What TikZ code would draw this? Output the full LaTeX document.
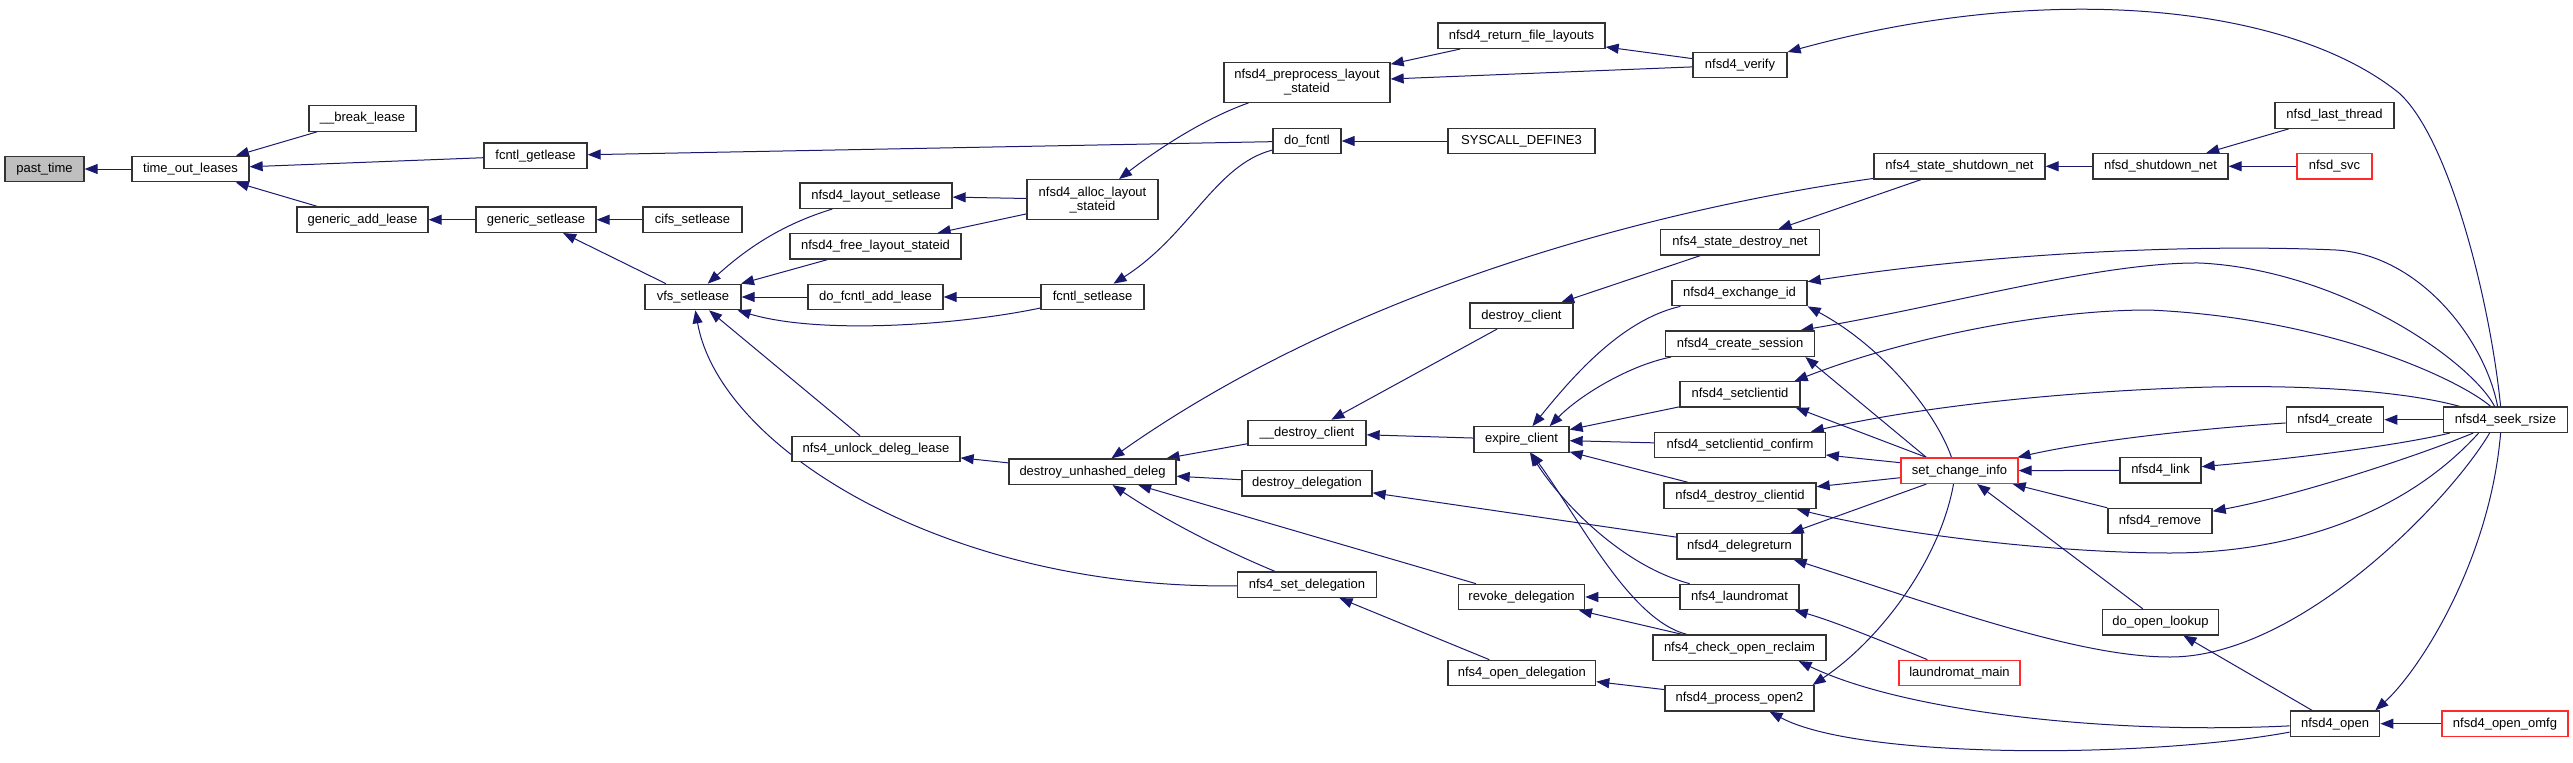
\documentclass[tikz,border=0pt]{standalone}
\usepackage{fontspec}
\setmainfont{Liberation Sans}
\usetikzlibrary{arrows.meta,calc}
\definecolor{navy}{HTML}{191970}
\definecolor{boxred}{HTML}{FF2A2A}
\newcommand\nodefont{\fontsize{13}{14}\selectfont}
\pgfdeclarelayer{bg}
\pgfsetlayers{bg,main}
\tikzset{
  box/.style={draw=black!80, line width=1.3pt, fill=white, minimum height=25.4pt, inner sep=0pt, font=\nodefont, align=center},
  tall/.style={minimum height=40pt},
  redbox/.style={box, draw=boxred},
  graybox/.style={box, fill=black!25},
  edg/.style={draw=navy, line width=1pt, -{Triangle[length=13pt,width=10pt]}},
}
\begin{document}
\begin{tikzpicture}[x=1pt,y=-1pt]
\useasboundingbox (0,0) rectangle (2573,763);
% nodes
\node[graybox, minimum width=79] (past) at (44.5,169) {past\_time};
\node[box, minimum width=117] (tol) at (190.5,169) {time\_out\_leases};
\node[box, minimum width=107] (brk) at (362.5,118.5) {\_\_break\_lease};
\node[box, minimum width=103] (getl) at (535.5,155.7) {fcntl\_getlease};
\node[box, minimum width=131] (gal) at (362.5,219.7) {generic\_add\_lease};
\node[box, minimum width=120] (gsl) at (536,219.7) {generic\_setlease};
\node[box, minimum width=99] (cifs) at (692.5,219.7) {cifs\_setlease};
\node[box, minimum width=96] (vfs) at (693,297) {vfs\_setlease};
\node[box, minimum width=152] (nls) at (876,195.7) {nfsd4\_layout\_setlease};
\node[box, minimum width=171] (nfl) at (875.5,246.3) {nfsd4\_free\_layout\_stateid};
\node[box, minimum width=135] (dfal) at (875.5,297) {do\_fcntl\_add\_lease};
\node[box, tall, minimum width=131] (alloc) at (1092.5,199.7) {nfsd4\_alloc\_layout\\\_stateid};
\node[box, minimum width=103] (fsl) at (1092.5,297) {fcntl\_setlease};
\node[box, tall, minimum width=166] (pre) at (1307,82.3) {nfsd4\_preprocess\_layout\\\_stateid};
\node[box, minimum width=68] (dofc) at (1307,141) {do\_fcntl};
\node[box, minimum width=147] (sys) at (1521.5,141) {SYSCALL\_DEFINE3};
\node[box, minimum width=167] (rfl) at (1521.5,35.7) {nfsd4\_return\_file\_layouts};
\node[box, minimum width=94] (ver) at (1740,65) {nfsd4\_verify};
\node[box, minimum width=171] (ssn) at (1959.5,166.3) {nfs4\_state\_shutdown\_net};
\node[box, minimum width=135] (shut) at (2160.5,166.3) {nfsd\_shutdown\_net};
\node[box, minimum width=119] (last) at (2334.5,115.5) {nfsd\_last\_thread};
\node[redbox, minimum width=75] (svc) at (2334.5,166.3) {nfsd\_svc};
\node[box, minimum width=158.5] (sdn) at (1740,242.3) {nfs4\_state\_destroy\_net};
\node[box, minimum width=103] (dc) at (1521.5,315.7) {destroy\_client};
\node[box, minimum width=135] (exid) at (1739.5,293) {nfsd4\_exchange\_id};
\node[box, minimum width=149.5] (cs) at (1740,343.7) {nfsd4\_create\_session};
\node[box, minimum width=120] (sc) at (1740,394.3) {nfsd4\_setclientid};
\node[box, minimum width=170.4] (conf) at (1740,445) {nfsd4\_setclientid\_confirm};
\node[box, minimum width=152] (dcid) at (1740,495.7) {nfsd4\_destroy\_clientid};
\node[box, minimum width=125] (dr) at (1739.5,546.3) {nfsd4\_delegreturn};
\node[box, minimum width=119] (laund) at (1739.5,597) {nfs4\_laundromat};
\node[box, minimum width=173] (cor) at (1739.5,647.7) {nfs4\_check\_open\_reclaim};
\node[box, minimum width=149] (po2) at (1739.5,698.3) {nfsd4\_process\_open2};
\node[box, minimum width=168] (unlock) at (876,449) {nfs4\_unlock\_deleg\_lease};
\node[box, minimum width=167] (dud) at (1092.5,471.7) {destroy\_unhashed\_deleg};
\node[box, minimum width=118] (udc) at (1307,433) {\_\_destroy\_client};
\node[box, minimum width=130] (dd) at (1307,483.3) {destroy\_delegation};
\node[box, minimum width=139] (nsd) at (1307,584.8) {nfs4\_set\_delegation};
\node[box, minimum width=95] (exp) at (1521.5,439.5) {expire\_client};
\node[box, minimum width=126] (rd) at (1521.6,597) {revoke\_delegation};
\node[box, minimum width=147.7] (od) at (1521.8,673) {nfs4\_open\_delegation};
\node[redbox, minimum width=117] (sci) at (1959.5,470.7) {set\_change\_info};
\node[redbox, minimum width=121] (lm) at (1959.5,673) {laundromat\_main};
\node[box, minimum width=97.5] (create) at (2335,419.7) {nfsd4\_create};
\node[box, minimum width=124.5] (seek) at (2505.5,419.7) {nfsd4\_seek\_rsize};
\node[box, minimum width=81] (link) at (2160.5,470.3) {nfsd4\_link};
\node[box, minimum width=104] (remove) at (2160,521) {nfsd4\_remove};
\node[box, minimum width=116] (dol) at (2160.5,622.2) {do\_open\_lookup};
\node[box, minimum width=89.5] (open) at (2335,723.7) {nfsd4\_open};
\node[redbox, minimum width=126] (omfg) at (2505,723.7) {nfsd4\_open\_omfg};
% edges
\begin{pgfonlayer}{bg}
\fill[white] (0,0) rectangle (2573,763);
\draw[edg] (tol) -- (past);
\draw[edg] (brk) -- (tol);
\draw[edg] (getl) -- (tol);
\draw[edg] (gal) -- (tol);
\draw[edg] (dofc) -- (getl);
\draw[edg] (gsl) -- (gal);
\draw[edg] (cifs) -- (gsl);
\draw[edg] (vfs) -- (gsl);
\draw[edg] (nls) .. controls (780,225) and (745,250) .. (vfs);
\draw[edg] (nfl) -- (vfs);
\draw[edg] (dfal) -- (vfs);
\draw[edg] (fsl) .. controls (960,325) and (820,335) .. (vfs);
\draw[edg] (unlock) -- (vfs);
\draw[edg] (nsd) .. controls (950,590) and (720,450) .. (vfs);
\draw[edg] (alloc) -- (nls);
\draw[edg] (alloc) -- (nfl);
\draw[edg] (pre) .. controls (1200,120) and (1150,155) .. (alloc);
\draw[edg] (fsl) -- (dfal);
\draw[edg] (dofc) .. controls (1215,165) and (1190,235) .. (fsl);
\draw[edg] (sys) -- (dofc);
\draw[edg] (rfl) -- (pre);
\draw[edg] (ver) -- (pre);
\draw[edg] (ver) -- (rfl);
\draw[edg] ($(seek.north west)+(58,0)$) .. controls (2490,300) and (2449,138) .. (2399,93) .. controls (2290,5) and (2050,-20) .. (ver);
\draw[edg] (shut) -- (ssn);
\draw[edg] (last) -- (shut);
\draw[edg] (svc) -- (shut);
\draw[edg] (ssn) -- (sdn);
\draw[edg] (ssn) .. controls (1650,210) and (1350,290) .. (dud);
\draw[edg] (sdn) -- (dc);
\draw[edg] (dc) -- (udc);
\draw[edg] (exp) -- (udc);
\draw[edg] (udc) -- (dud);
\draw[edg] (dd) -- (dud);
\draw[edg] (rd) -- (dud);
\draw[edg] (nsd) .. controls (1200,540) and (1150,510) .. (dud);
\draw[edg] (dud) -- (unlock);
\draw[edg] (dr) -- (dd);
\draw[edg] (exid) .. controls (1620,320) and (1570,380) .. (exp);
\draw[edg] (cs) .. controls (1630,365) and (1580,395) .. ($(exp.north east)+(-20,0)$);
\draw[edg] (sc) -- (exp);
\draw[edg] (conf) -- (exp);
\draw[edg] (dcid) -- (exp);
\draw[edg] (laund) .. controls (1620,565) and (1560,500) .. (exp);
\draw[edg] (cor) .. controls (1630,620) and (1580,520) .. (exp);
\draw[edg] (laund) -- (rd);
\draw[edg] (cor) -- (rd);
\draw[edg] (od) -- (nsd);
\draw[edg] (po2) -- (od);
\draw[edg] (lm) .. controls (1880,640) and (1830,620) .. ($(laund.south east)+(-5,0)$);
\draw[edg] ($(sci.north)+(-8,0)$) .. controls (1935,410) and (1880,345) .. (exid.south east);
\draw[edg] ($(sci.north west)+(26,0)$) -- ($(cs.south east)+(-10,0)$);
\draw[edg] ($(sci.north west)+(26,0)$) -- ($(sc.south east)+(-5,0)$);
\draw[edg] ($(sci.west)+(0,-8)$) -- ($(conf.east)+(0,10)$);
\draw[edg] ($(sci.west)+(0,7)$) -- ($(dcid.east)+(0,-9)$);
\draw[edg] ($(sci.south west)+(26,0)$) -- ($(dr.north east)+(-12,0)$);
\draw[edg] ($(sci.south)+(-6,0)$) .. controls (1940,560) and (1880,640) .. ($(po2.north east)+(-2,0)$);
\draw[edg] (dol) -- (sci);
\draw[edg] (create) .. controls (2180,430) and (2080,443) .. (sci);
\draw[edg] (link) -- (sci);
\draw[edg] (remove) -- (sci);
\draw[edg] (seek) -- (create);
\draw[edg] (seek) .. controls (2400,445) and (2300,458) .. (link);
\draw[edg] (seek) .. controls (2420,455) and (2300,495) .. (remove);
\draw[edg] ($(seek.south west)+(36,0)$) .. controls (2400,520) and (2280,553) .. (2170,553) .. controls (2060,553) and (1900,535) .. ($(dcid.south east)+(-20,0)$);
\draw[edg] ($(seek.south west)+(47,0)$) .. controls (2450,500) and (2300,657) .. (2170,657) .. controls (2080,657) and (1950,610) .. ($(dr.south east)+(-9,0)$);
\draw[edg] ($(seek.south west)+(58,0)$) .. controls (2490,560) and (2420,670) .. ($(open.north east)+(-5,0)$);
\draw[edg] ($(seek.north west)+(48,0)$) .. controls (2460,380) and (2330,318) .. (2149,310) .. controls (2040,310) and (1900,340) .. ($(sc.north east)+(-6,0)$);
\draw[edg] ($(seek.north west)+(52,0)$) .. controls (2470,360) and (2340,270) .. (2200,263) .. controls (2100,262) and (1950,305) .. ($(cs.north east)+(-15,0)$);
\draw[edg] ($(seek.north west)+(55,0)$) .. controls (2485,340) and (2420,255) .. (2336,250) .. controls (2200,244) and (2000,252) .. ($(exid.north east)+(0,2)$);
\draw[edg] ($(seek.north west)+(17,0)$) .. controls (2400,390) and (2300,385) .. (2212,387) .. controls (2120,389) and (1950,400) .. ($(conf.north east)+(-15,0)$);
\draw[edg] (omfg) -- (open);
\draw[edg] (open) -- (dol);
\draw[edg] (open) .. controls (2100,735) and (1900,710) .. ($(cor.south east)+(-28,0)$);
\draw[edg] (open) .. controls (2150,758) and (1860,760) .. ($(po2.south)+(30,0)$);
\end{pgfonlayer}
\end{tikzpicture}
\end{document}
